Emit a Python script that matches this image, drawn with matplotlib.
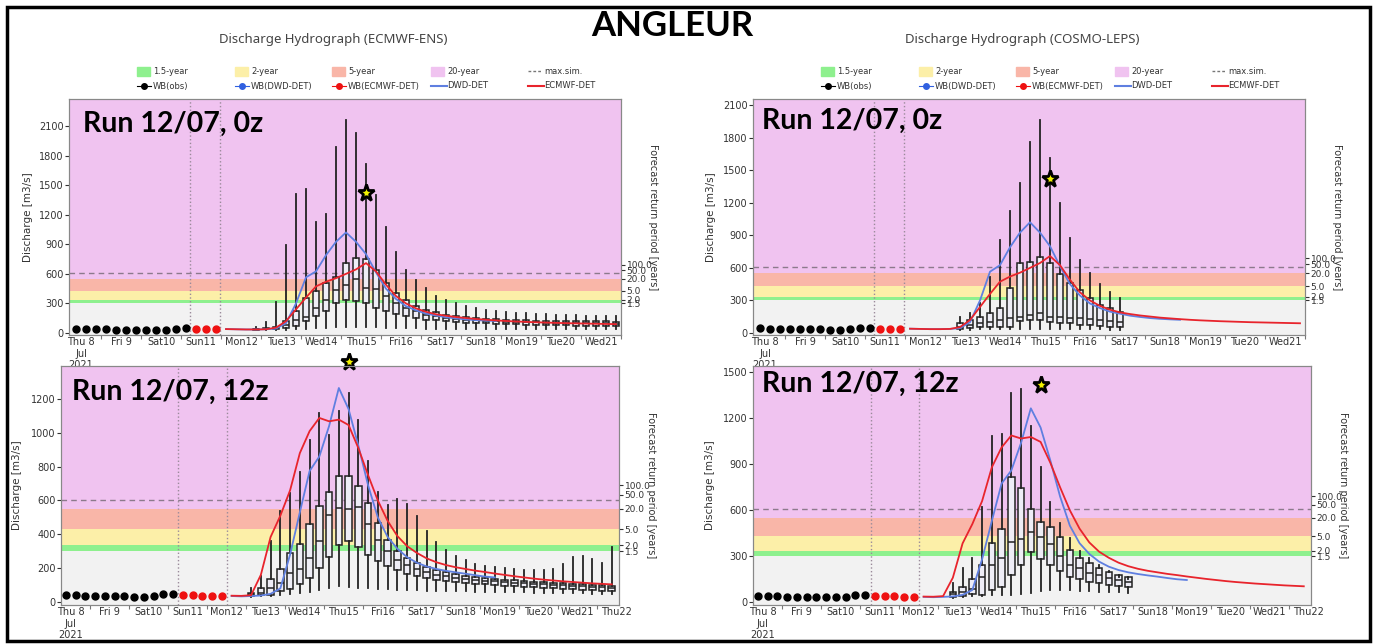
import numpy as np
import matplotlib
matplotlib.use("Agg")
import matplotlib.pyplot as plt
from matplotlib.patches import Rectangle
from matplotlib.lines import Line2D

# time axis: days since Thu 8 Jul 2021 00:00, 6-hourly steps
day_labels = ['Thu 8\nJul\n2021', 'Fri 9', 'Sat10', 'Sun11', 'Mon12', 'Tue13', 'Wed14',
              'Thu15', 'Fri16', 'Sat17', 'Sun18', 'Mon19', 'Tue20', 'Wed21', 'Thu22']
step = 0.25

# return period thresholds (right axis) and max simulated
thr_labels = ['1.5', '2.0', '5.0', '20.0', '50.0', '100.0']
thr_values = [300, 335, 430, 550, 635, 690]
max_sim = 605

# observations
obs_t0 = 0.375
wb_obs = [42, 40, 38, 36, 35, 34, 33, 32, 31, 34, 45, 48]
wb_ecmwf_0z = [40, 39, 38]
wb_ecmwf_12z = [40, 39, 38, 37, 36]

# deterministic forecasts
det0_t0 = 4.125
ecmwf_det_0z = [40, 38, 36, 36, 38, 55, 120, 240, 360, 473, 520, 556, 600, 645, 709, 625, 490, 375, 300, 250,
                215, 190, 175, 162, 152, 142, 135, 128, 122, 117, 113, 109, 106, 103, 100, 98, 96, 94, 92, 90]
dwd_det_0z = [40, 38, 36, 36, 38, 45, 100, 300, 565, 625, 790, 925, 1020, 925, 800, 615, 450, 345, 272, 230,
              197, 178, 160, 148, 138, 131, 126, 122]
det12_t0 = 4.625
ecmwf_det_12z = [37, 36, 40, 160, 384, 510, 660, 880, 1010, 1088, 1068, 1078, 1046, 910, 750, 600, 480, 390, 330, 290,
                 258, 235, 218, 205, 195, 185, 177, 168, 160, 152, 145, 138, 132, 127, 122, 118, 114, 110, 107, 104]
dwd_det_12z = [35, 33, 35, 38, 48, 80, 280, 530, 774, 860, 1040, 1265, 1140, 925, 690, 500, 385, 315, 265, 232,
               210, 195, 184, 175, 167, 158, 150, 145]

obs_peak_t, obs_peak = 7.625, 1420

# ensembles: whisker low, Q1, median, Q3, whisker high
ens_tl_t0 = 4.875
ens_tl_hi = [60, 115, 310, 890, 1408, 1465, 1128, 1205, 1884, 2160, 2025, 1715, 1400, 1080, 820, 641, 540, 452, 378,
             331, 304, 277, 257, 236, 226, 213, 205, 200, 195, 190, 185, 180, 178, 175, 172, 170, 168]
ens_tl_q3 = [45, 55, 65, 118, 220, 354, 422, 506, 564, 709, 760, 750, 641, 506, 405, 331, 277, 236, 209, 186,
             169, 160, 152, 146, 141, 137, 133, 130, 127, 125, 123, 121, 120, 119, 118, 117, 116]
ens_tl_med = [40, 45, 50, 84, 135, 160, 253, 338, 439, 490, 547, 456, 446, 371, 304, 253, 219, 186, 169, 152,
              142, 135, 128, 123, 119, 116, 113, 110, 108, 106, 104, 102, 100, 99, 98, 97, 95]
ens_tl_q1 = [35, 38, 40, 50, 67, 118, 169, 220, 304, 338, 320, 304, 253, 219, 196, 169, 152, 135, 128, 118,
             111, 106, 101, 97, 94, 91, 88, 86, 84, 82, 80, 78, 76, 75, 74, 72, 70]
ens_tl_lo = [30, 30, 30, 35, 40, 45, 50, 55, 60, 65, 65, 65, 60, 55, 55, 50, 50, 45, 45, 45,
             42, 42, 42, 40, 40, 40, 40, 40, 40, 40, 40, 38, 38, 38, 38, 38, 38]

ens_tr_t0 = 5.375
ens_tr_hi = [150, 187, 273, 520, 857, 1120, 1380, 1762, 1962, 1609, 1200, 878, 672, 550, 448, 381, 319]
ens_tr_q3 = [89, 120, 150, 181, 227, 411, 642, 657, 703, 648, 543, 464, 396, 319, 258, 227, 197]
ens_tr_med = [58, 70, 89, 104, 120, 135, 150, 166, 181, 150, 150, 135, 135, 126, 120, 114, 104]
ens_tr_q1 = [40, 42, 52, 58, 55, 60, 110, 120, 120, 104, 89, 89, 74, 74, 65, 58, 52]
ens_tr_lo = [30, 32, 35, 38, 40, 40, 40, 40, 40, 38, 38, 36, 35, 34, 33, 32, 30]

ens_bl_t0 = 5.125
ens_bl_hi = [80, 152, 359, 536, 644, 766, 960, 1117, 989, 1127, 1235, 1078, 831, 648, 575, 611, 581, 506, 422,
             353, 305, 274, 250, 225, 215, 207, 201, 197, 191, 191, 191, 195, 225, 266, 274, 254, 231, 325]
ens_bl_q3 = [55, 83, 136, 195, 290, 345, 463, 566, 648, 743, 747, 684, 585, 467, 368, 303, 260, 231, 207,
             191, 175, 165, 152, 145, 140, 136, 132, 128, 124, 120, 117, 114, 111, 108, 105, 102, 99, 96]
ens_bl_med = [45, 55, 83, 112, 171, 195, 260, 363, 516, 556, 550, 562, 463, 368, 303, 250, 221, 197, 175,
              162, 152, 142, 136, 130, 126, 122, 118, 115, 112, 108, 105, 102, 99, 96, 93, 90, 87, 84]
ens_bl_q1 = [38, 40, 43, 63, 77, 108, 142, 201, 266, 335, 359, 325, 280, 240, 211, 187, 167, 152, 142,
             132, 126, 118, 112, 108, 104, 100, 97, 94, 91, 88, 85, 82, 79, 76, 73, 70, 67, 64]
ens_bl_lo = [32, 33, 35, 40, 45, 55, 60, 70, 80, 95, 90, 85, 80, 78, 75, 72, 70, 68, 66,
             65, 64, 63, 62, 61, 60, 59, 58, 57, 56, 55, 54, 53, 52, 51, 50, 49, 48, 47]

ens_br_t0 = 5.375
ens_br_hi = [124, 221, 286, 618, 1082, 1095, 1364, 1392, 1147, 882, 655, 514, 416, 334, 286, 243, 206, 167, 152]
ens_br_q3 = [69, 98, 150, 243, 388, 481, 817, 748, 611, 525, 492, 427, 340, 286, 254, 221, 199, 178, 167]
ens_br_med = [52, 69, 85, 167, 243, 286, 395, 410, 455, 425, 379, 301, 243, 221, 193, 178, 160, 145, 134]
ens_br_q1 = [37, 41, 54, 48, 80, 102, 178, 243, 326, 280, 243, 206, 167, 150, 134, 124, 113, 106, 98]
ens_br_lo = [30, 33, 38, 38, 45, 45, 50, 55, 60, 75, 80, 80, 78, 75, 72, 70, 68, 65, 62]

# colours
c_pink, c_salmon, c_yellow, c_green, c_grey = '#f0c3f0', '#f9b6a8', '#fcefa8', '#8ef08e', '#f2f2f2'
c_red, c_blue = '#e8242c', '#5f7fe0'

W, H = 1376, 644
fig = plt.figure(figsize=(W / 100, H / 100), dpi=100)


def times(t0, n):
    return t0 + step * np.arange(n)


def panel(box, ylim, yticks, xlim, run, ens, t0, red_det, blue_det, red_t0, wb_red, vlines, ylab_x, run_xy):
    l, t, r, b = box
    ax = fig.add_axes([l / W, 1 - b / H, (r - l) / W, (b - t) / H])
    ymin, ymax = ylim
    ax.axhspan(ymin, thr_values[0], color=c_grey, lw=0, zorder=0)
    ax.axhspan(thr_values[0], thr_values[1], color=c_green, lw=0, zorder=0)
    ax.axhspan(thr_values[1], thr_values[2], color=c_yellow, lw=0, zorder=0)
    ax.axhspan(thr_values[2], thr_values[3], color=c_salmon, lw=0, zorder=0)
    ax.axhspan(thr_values[3], ymax, color=c_pink, lw=0, zorder=0)
    ax.axhline(max_sim, color='#8c7a8c', ls=(0, (4, 3)), lw=1, zorder=1)
    for v in vlines:
        ax.axvline(v, color='#9a8a9a', ls=':', lw=1, zorder=1)

    lo, q1, med, q3, hi = ens
    stats = [dict(whislo=a, q1=bq, med=c, q3=d, whishi=e) for a, bq, c, d, e in zip(lo, q1, med, q3, hi)]
    ax.bxp(stats, positions=times(t0, len(stats)), widths=0.17, showfliers=False, showcaps=False,
           patch_artist=True, manage_ticks=False,
           boxprops=dict(facecolor='#eeedf6', edgecolor='#222222', lw=1.1),
           medianprops=dict(color='#222222', lw=1.1),
           whiskerprops=dict(color='#222222', lw=1.3))

    ax.plot(times(red_t0, len(blue_det)), blue_det, color=c_blue, lw=1.3, zorder=4)
    ax.plot(times(red_t0, len(red_det)), red_det, color=c_red, lw=1.3, zorder=4)
    ax.plot(times(obs_t0, len(wb_obs)), wb_obs, 'o', color='black', ms=5, zorder=5)
    ax.plot(times(obs_t0 + step * len(wb_obs), len(wb_red)), wb_red, 'o', color='#ee1111', ms=5, zorder=5)
    ax.plot(obs_peak_t, obs_peak, marker='*', ms=12.5, mfc='#f2f200', mec='black', mew=2,
            zorder=6, clip_on=False)

    ax.set_xlim(*xlim)
    ax.set_ylim(*ylim)
    ax.set_yticks(yticks)
    ax.set_xticks(np.arange(1, int(xlim[1]) + 1))
    noons = [i + 0.5 for i in range(len(day_labels)) if xlim[0] < i + 0.5 < xlim[1]]
    ax.set_xticks(noons, minor=True)
    ax.set_xticklabels([])
    ax.set_xticklabels([day_labels[int(n)] for n in noons], minor=True)
    ax.tick_params(axis='x', which='major', length=3, color='#777777')
    ax.tick_params(axis='x', which='minor', length=0, labelsize=7, colors='#333333', pad=1.5)
    ax.tick_params(axis='y', length=3, labelsize=7, colors='#333333', pad=1)
    for sp in ax.spines.values():
        sp.set_color('#888888')
    ax.set_ylabel('Discharge [m3/s]', fontsize=7.5, color='#333333')
    ax.yaxis.set_label_coords(ylab_x, 0.5)

    ax2 = ax.twinx()
    ax2.set_ylim(*ylim)
    ax2.set_yticks(thr_values)
    ax2.set_yticklabels(thr_labels)
    ax2.tick_params(axis='y', length=3, labelsize=6.5, colors='#333333', pad=1)
    for sp in ax2.spines.values():
        sp.set_color('#888888')
    ax.text(1.058, 0.5, 'Forecast return period [years]', transform=ax.transAxes, rotation=270,
            ha='center', va='center', fontsize=7, color='#333333')

    ax.text(run_xy[0], run_xy[1], run, transform=ax.transAxes, fontsize=20.5, fontweight='bold',
            family='Lato', va='baseline', ha='left', zorder=7)
    return ax


top_xlim = (0.2, 14.0)
bot_xlim = (0.25, 14.56)

panel((69, 99, 621, 335), (-20, 2373), range(0, 2101, 300), top_xlim, 'Run 12/07, 0z',
      (ens_tl_lo, ens_tl_q1, ens_tl_med, ens_tl_q3, ens_tl_hi), ens_tl_t0,
      ecmwf_det_0z, dwd_det_0z, det0_t0, wb_ecmwf_0z, [3.22, 3.97], -0.066, (0.025, 0.86))
panel((753, 99, 1305, 335), (-18, 2155), range(0, 2101, 300), top_xlim, 'Run 12/07, 0z',
      (ens_tr_lo, ens_tr_q1, ens_tr_med, ens_tr_q3, ens_tr_hi), ens_tr_t0,
      ecmwf_det_0z, dwd_det_0z, det0_t0, wb_ecmwf_0z, [3.22, 3.97], -0.067, (0.016, 0.873))
panel((61, 366, 619, 605), (-18, 1395), range(0, 1201, 200), bot_xlim, 'Run 12/07, 12z',
      (ens_bl_lo, ens_bl_q1, ens_bl_med, ens_bl_q3, ens_bl_hi), ens_bl_t0,
      ecmwf_det_12z, dwd_det_12z, det12_t0, wb_ecmwf_12z, [3.24, 4.51], -0.070, (0.02, 0.858))
panel((753, 366, 1311, 605), (-18, 1541), range(0, 1501, 300), bot_xlim, 'Run 12/07, 12z',
      (ens_br_lo, ens_br_q1, ens_br_med, ens_br_q3, ens_br_hi), ens_br_t0,
      ecmwf_det_12z, dwd_det_12z, det12_t0, wb_ecmwf_12z, [3.27, 4.51], -0.068, (0.016, 0.891))

# titles
fig.text(672 / W, 1 - 26 / H, 'ANGLEUR', ha='center', va='center', fontsize=25, fontweight='bold', family='Lato')
fig.text(333 / W, 1 - 40 / H, 'Discharge Hydrograph (ECMWF-ENS)', ha='center', va='center',
         fontsize=9.5, family='Noto Sans', color='#444444')
fig.text(1022 / W, 1 - 40 / H, 'Discharge Hydrograph (COSMO-LEPS)', ha='center', va='center',
         fontsize=9.5, family='Noto Sans', color='#444444')

# legends
leg_row1 = [('patch', c_green, '1.5-year'), ('patch', c_yellow, '2-year'), ('patch', c_salmon, '5-year'),
            ('patch', c_pink, '20-year'), ('dash', '#777777', 'max.sim.')]
leg_row2 = [('dot', 'black', 'WB(obs)'), ('dot', '#3060e0', 'WB(DWD-DET)'), ('dot', '#ee1111', 'WB(ECMWF-DET)'),
            ('line', c_blue, 'DWD-DET'), ('line', c_red, 'ECMWF-DET')]
for x0 in (137, 821):
    for row, yy in ((leg_row1, 71), (leg_row2, 86)):
        for i, (kind, col, lab) in enumerate(row):
            xi = x0 + [0, 98, 195, 294, 391][i]
            fy = 1 - yy / H
            if kind == 'patch':
                fig.add_artist(Rectangle((xi / W, fy - 4.5 / H), 13 / W, 9 / H, color=col,
                                         transform=fig.transFigure))
            elif kind == 'dash':
                fig.add_artist(Line2D([xi / W, (xi + 14) / W], [fy, fy], color=col, ls=(0, (2, 1.5)),
                                      lw=1, transform=fig.transFigure))
            elif kind == 'dot':
                fig.add_artist(Line2D([xi / W, (xi + 14) / W], [fy, fy], color=col, lw=0.8,
                                      transform=fig.transFigure))
                fig.add_artist(Line2D([(xi + 7) / W], [fy], color=col, marker='o', ms=4, lw=0,
                                      transform=fig.transFigure))
            else:
                fig.add_artist(Line2D([xi / W, (xi + 16) / W], [fy, fy], color=col, lw=1.5,
                                      transform=fig.transFigure))
            fig.text((xi + 16) / W, fy, lab, ha='left', va='center', fontsize=6, color='#333333')

# outer frame
fig.add_artist(Rectangle((7 / W, 3 / H), 1363 / W, 634 / H, fill=False, ec='black', lw=2.5,
                         transform=fig.transFigure))

fig.savefig('out.png', dpi=100)
